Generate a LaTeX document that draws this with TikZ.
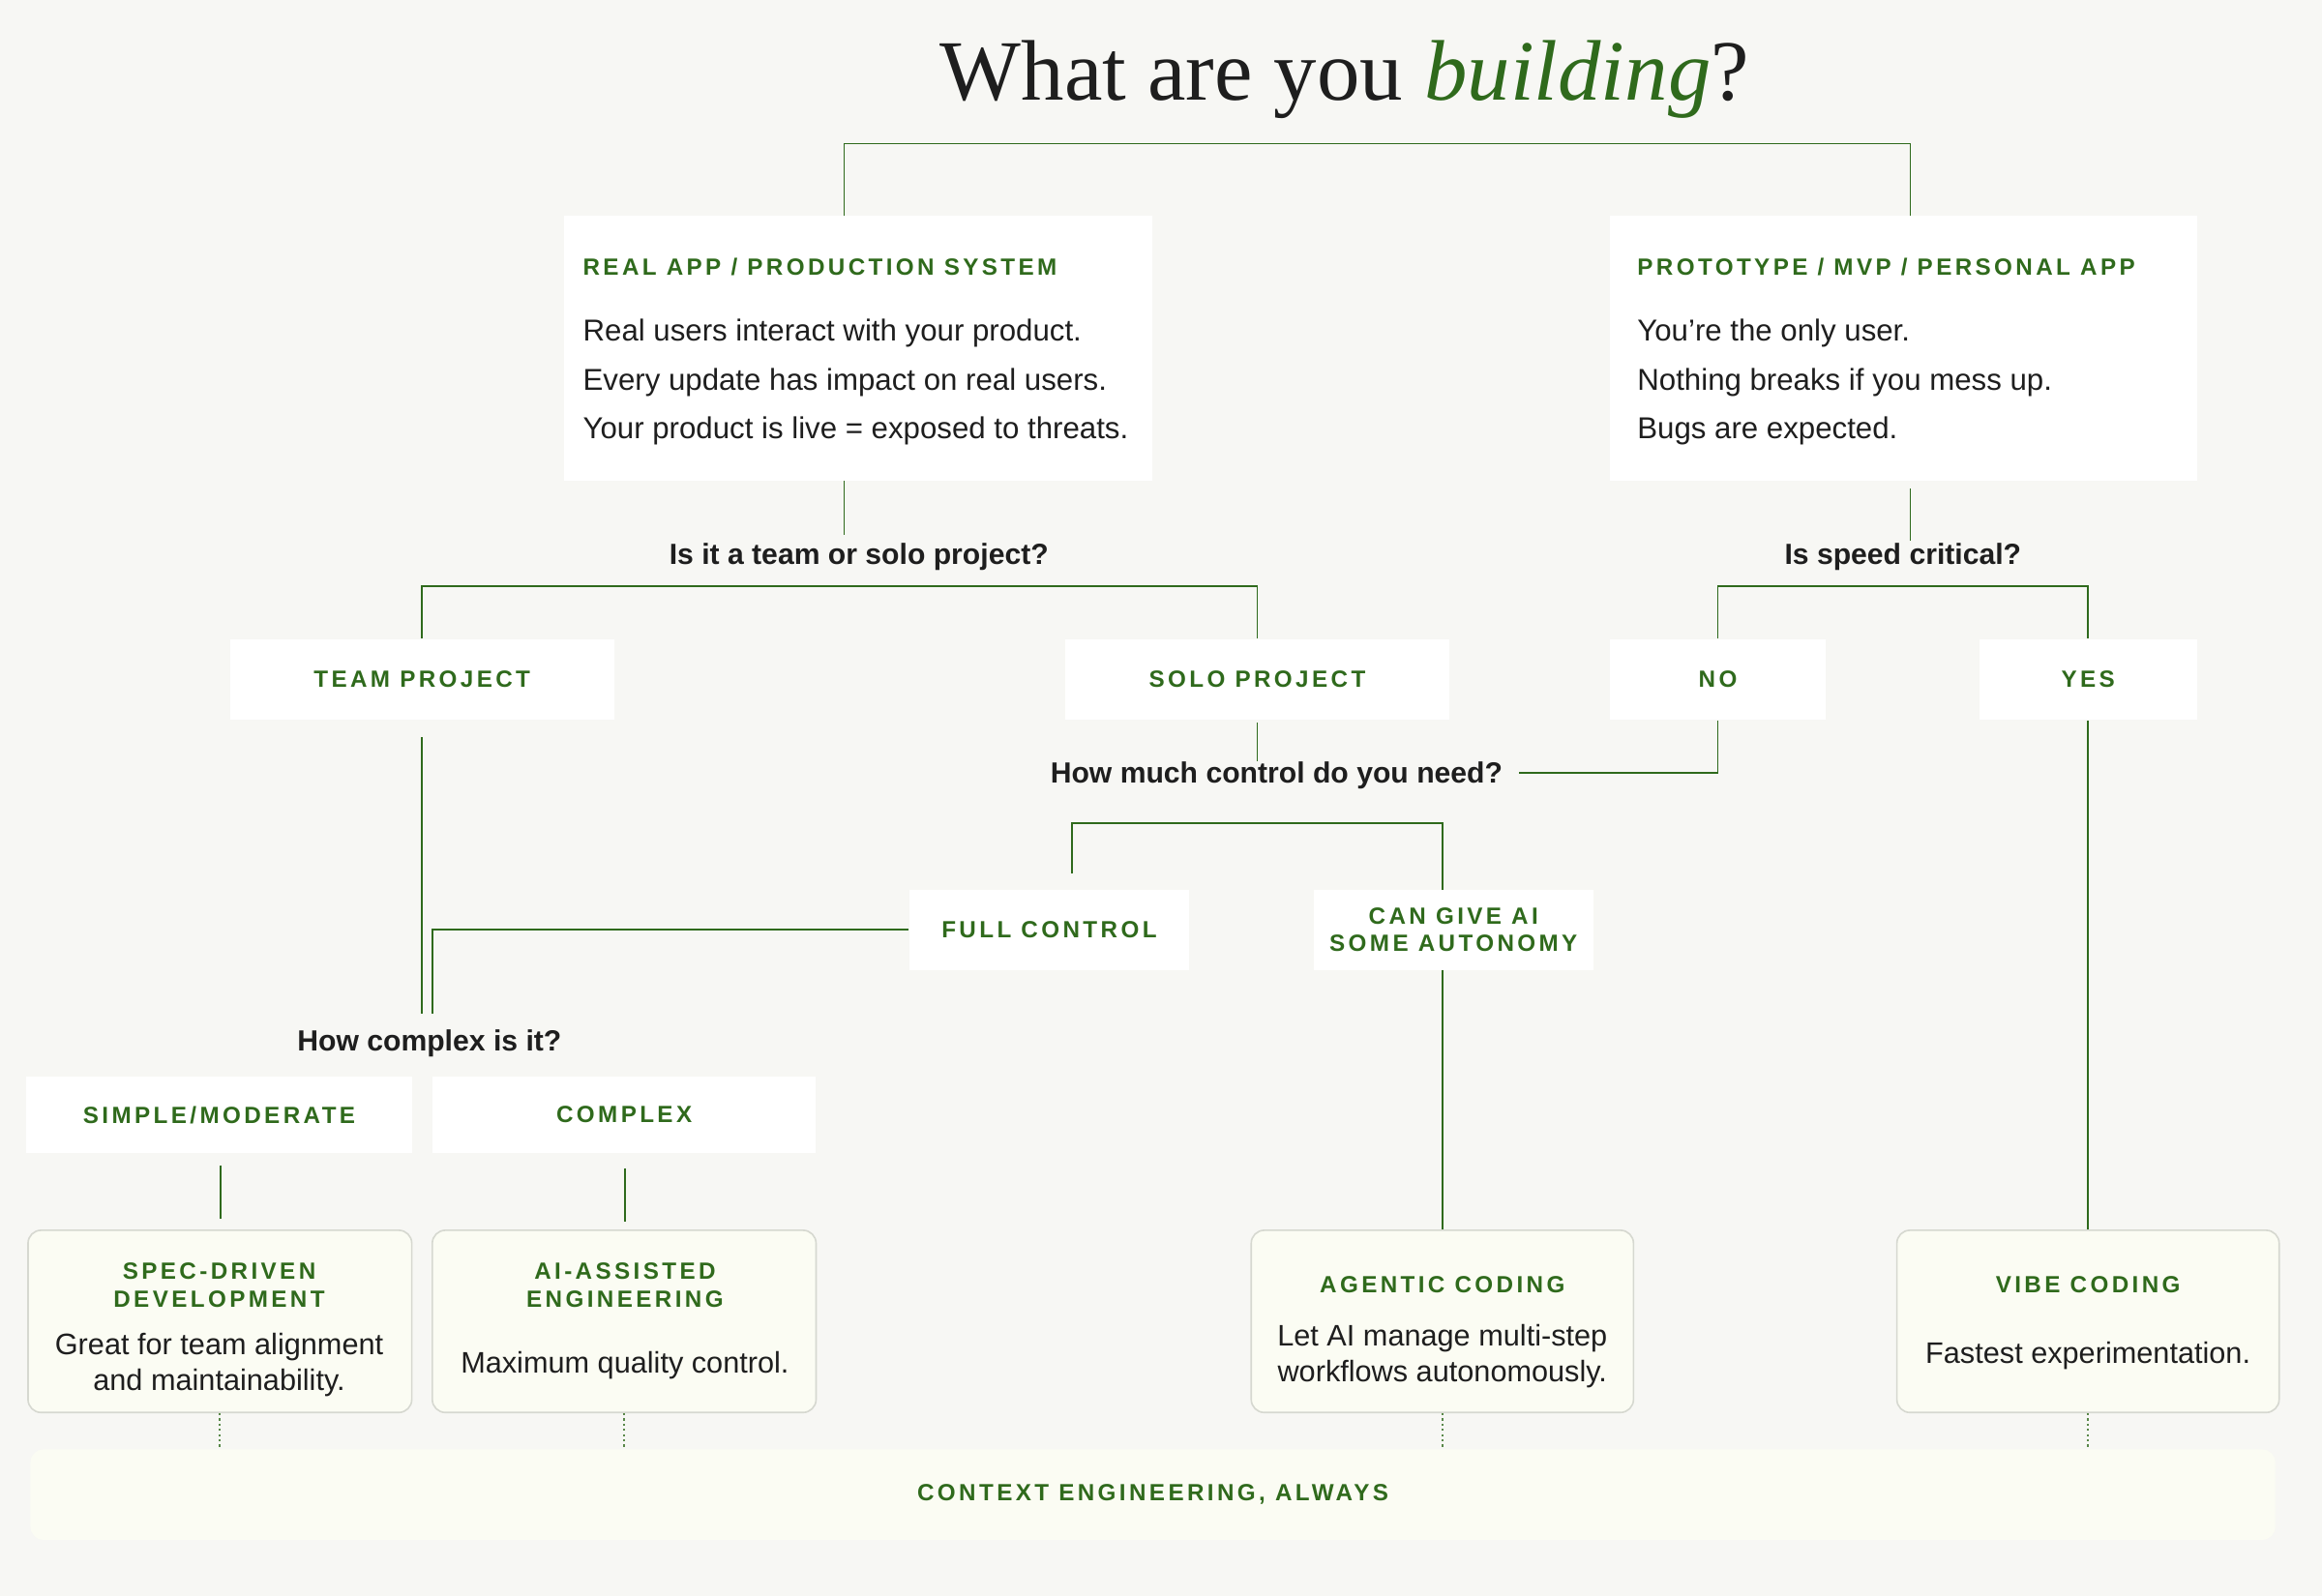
\documentclass[tikz,border=0pt]{standalone}
\usepackage{fontspec}
\setmainfont{Liberation Sans}
\newfontfamily\capsf[LetterSpace=14]{Liberation Sans}
\newfontfamily\titlef{Liberation Serif}
\definecolor{bg}{HTML}{F7F7F4}
\definecolor{grn}{HTML}{2F6A1C}
\definecolor{ink}{HTML}{1E1E1E}
\definecolor{lite}{HTML}{FBFCF3}
\definecolor{edge}{HTML}{D6D8D0}
\begin{document}
\begin{tikzpicture}[x=0.01cm,y=-0.01cm,
  box/.style={fill=white,draw=none,inner sep=0},
  hd/.style={text=grn,font=\capsf\bfseries\fontsize{4.5}{5.3}\selectfont,align=center},
  body/.style={text=ink,font=\fontsize{5.8}{9.4}\selectfont,align=left,inner sep=0},
  rb/.style={text=ink,font=\fontsize{5.7}{6.9}\selectfont,align=center,inner sep=0},
  q/.style={text=ink,font=\bfseries\fontsize{5.6}{7}\selectfont},
  ln/.style={draw=grn,line width=0.35pt},
  dl/.style={draw=grn!80,line width=0.3pt,dash pattern=on 0.4pt off 0.6pt},
  res/.style={fill=lite,draw=edge,line width=0.3pt,rounded corners=2.5pt}]
\fill[bg] (0,0) rectangle (1568,1078);
\useasboundingbox (0,0) rectangle (1568,1078);
% title
\node[font=\titlef\fontsize{16.5}{20}\selectfont,text=ink] (title) at (908,54) {What are you \textcolor{grn}{\itshape building}?};
% top boxes
\path[box] (381,146) rectangle (778,325);
\path[box] (1087,146) rectangle (1484,325);
\node[hd,anchor=west,inner sep=0] (h1) at (393,180) {REAL APP / PRODUCTION SYSTEM};
\node[body,anchor=north west] (t1) at (393,215) {Real users interact with your product.\\Every update has impact on real users.\\Your product is live = exposed to threats.};
\node[hd,anchor=west,inner sep=0] (h2) at (1105,180) {PROTOTYPE / MVP / PERSONAL APP};
\node[body,anchor=north west] (t2) at (1105,215) {You’re the only user.\\Nothing breaks if you mess up.\\Bugs are expected.};
\coordinate (L1) at (570,146); \coordinate (R1) at (1290,146);
\draw[ln] (L1) -- (570,97) -- (1290,97) -- (R1);
% questions
\node[q] (q1) at (580,376) {Is it a team or solo project?};
\node[q] (q2) at (1285,376) {Is speed critical?};
\coordinate (L1b) at (570,325); \coordinate (L1c) at (570,361);
\draw[ln] (L1b) -- (L1c);
\coordinate (R1b) at (1290,330); \coordinate (R1c) at (1290,365);
\draw[ln] (R1b) -- (R1c);
% level boxes
\node[box,minimum width=2.59cm,minimum height=0.54cm,hd] (team) at (285,459) {TEAM PROJECT};
\node[box,minimum width=2.59cm,minimum height=0.54cm,hd] (solo) at (849,459) {SOLO PROJECT};
\node[box,minimum width=1.46cm,minimum height=0.54cm,hd] (no) at (1160,459) {NO};
\node[box,minimum width=1.47cm,minimum height=0.54cm,hd] (yes) at (1410,459) {YES};
\draw[ln] (team.north) -- (285,396) -- (849,396) -- (solo.north);
\draw[ln] (no.north) -- (1160,396) -- (1410,396) -- (yes.north);
\node[q] (q3) at (862,524) {How much control do you need?};
\coordinate (s1) at (849,488); \coordinate (s2) at (849,514);
\draw[ln] (s1) -- (s2);
\coordinate (n2) at (1026,522);
\draw[ln] (no.south) -- (1160,522) -- (n2);
\node[box,minimum width=1.89cm,minimum height=0.54cm,hd] (full) at (708.5,628) {FULL CONTROL};
\node[box,minimum width=1.89cm,minimum height=0.54cm,hd] (auto) at (981.5,628) {CAN GIVE AI\\SOME AUTONOMY};
\coordinate (c1) at (724,590); \coordinate (c2) at (974,601);
\draw[ln] (c1) -- (724,556) -- (974,556) -- (c2);
\node[q] (q4) at (290,705) {How complex is it?};
\coordinate (t3) at (285,498); \coordinate (t4) at (285,685);
\draw[ln] (t3) -- (t4);
\coordinate (f2) at (292,685);
\draw[ln] (full.west) -- (292,628) -- (f2);
\node[box,minimum width=2.60cm,minimum height=0.52cm,hd] (simple) at (148,753) {SIMPLE/MODERATE};
\node[box,minimum width=2.59cm,minimum height=0.52cm,hd] (complex) at (421.5,753) {COMPLEX};
% results
\node[res,minimum width=2.59cm,minimum height=1.23cm] (spec) at (148.5,892.5) {};
\node[res,minimum width=2.59cm,minimum height=1.23cm] (aiae) at (421.5,892.5) {};
\node[res,minimum width=2.58cm,minimum height=1.23cm] (agent) at (974,892.5) {};
\node[res,minimum width=2.58cm,minimum height=1.23cm] (vibe) at (1410,892.5) {};
\node[hd] (spech) at (148,868) {SPEC-DRIVEN\\DEVELOPMENT};
\node[rb] (spect) at (148,922) {Great for team alignment\\and maintainability.};
\node[hd] (aih) at (422,868) {AI-ASSISTED\\ENGINEERING};
\node[rb] (ait) at (422,922) {Maximum quality control.};
\node[hd] (agh) at (974,868) {AGENTIC CODING};
\node[rb] (agt) at (974,916) {Let AI manage multi-step\\workflows autonomously.};
\node[hd] (vbh) at (1410,868) {VIBE CODING};
\node[rb] (vbt) at (1410,916) {Fastest experimentation.};
\coordinate (sm1) at (149,787); \coordinate (sm2) at (149,823);
\coordinate (cx1) at (422,789); \coordinate (cx2) at (422,825);
\draw[ln] (sm1) -- (sm2); \draw[ln] (cx1) -- (cx2);
\coordinate (a1) at (974,655);
\draw[ln] (a1) -- (agent.north);
\draw[ln] (yes.south) -- (vibe.north);
% context
\node[res,draw=none,fill=lite,minimum width=15.15cm,minimum height=0.61cm,hd] (ctx) at (778.5,1009.5) {CONTEXT ENGINEERING, ALWAYS};
\draw[dl] (spec.south) -- (spec.south |- ctx.north);
\draw[dl] (aiae.south) -- (aiae.south |- ctx.north);
\draw[dl] (agent.south) -- (agent.south |- ctx.north);
\draw[dl] (vibe.south) -- (vibe.south |- ctx.north);
\end{tikzpicture}
\end{document}
